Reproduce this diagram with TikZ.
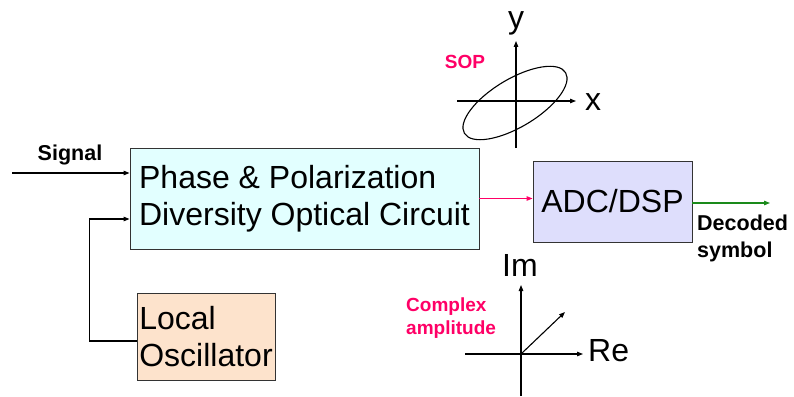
\documentclass[tikz,border=0pt]{standalone}
\usepackage{fontspec}
\setmainfont{Liberation Sans}
\usetikzlibrary{arrows.meta}
\definecolor{boxcyan}{HTML}{E2FFFF}
\definecolor{boxpeach}{HTML}{FDE3CC}
\definecolor{boxlilac}{HTML}{DEDEFC}
\definecolor{hotpink}{HTML}{FF0066}
\definecolor{outgreen}{HTML}{1A8A1A}
\begin{document}
\begin{tikzpicture}[x=1pt,y=-1pt,
    box/.style={draw=black!80, line width=0.9pt, inner sep=0pt, font=\fontsize{32}{37}\selectfont},
    wire/.style={line width=1.1pt, -{Triangle[length=6pt,width=4.5pt]}},
    axis/.style={line width=1.1pt, -{Triangle[length=6pt,width=4.5pt]}},
    big/.style={inner sep=0pt, font=\fontsize{32}{37}\selectfont},
    tag/.style={inner sep=0pt, font=\bfseries\fontsize{21.5}{27}\selectfont}]
  \useasboundingbox (0,0) rectangle (794,396);
  % blocks
  \node[box, fill=boxcyan, minimum width=349, minimum height=101, align=left] (optic) at (304.5,198.5)
    {Phase \& Polarization\\Diversity Optical Circuit};
  \node[box, fill=boxpeach, minimum width=138, minimum height=87, align=left] (lo) at (206,336.5)
    {Local\\Oscillator};
  \node[box, fill=boxlilac, minimum width=159, minimum height=81] (adc) at (612.5,201.5) {ADC/DSP};
  % inputs and output
  \coordinate (sigin) at (12,173);
  \coordinate (symout) at (770,203);
  \draw[wire] (sigin) -- (sigin -| optic.west);
  \node[tag] (signal) at (70,155) {Signal};
  \draw[wire] ([yshift=-4.5]lo.west) -- ++(-47,0) |- ([yshift=-20.5]optic.west);
  \draw[wire, hotpink] (optic.east) -- (optic.east -| adc.west);
  \draw[wire, outgreen] ([yshift=-1.5]adc.east) -- (symout);
  \node[tag, anchor=west, align=left] (decoded) at (697,238.5) {Decoded\\symbol};
  % state of polarization
  \coordinate (sop) at (516,101);
  \draw[axis] (sop) ++(-59,0) -- ++(119,0);
  \draw[axis] (sop) ++(0,47) -- ++(0,-107);
  \draw[line width=1.1pt, rotate around={31:(515,103)}] (515,103) ellipse [x radius=59, y radius=24];
  \node[big, anchor=base] (ylab) at (516,29) {y};
  \node[big, anchor=base west] (xlab) at (585,110) {x};
  \node[tag, hotpink, font=\bfseries\fontsize{19}{23}\selectfont] (soplab) at (465,62) {SOP};
  % complex amplitude
  \coordinate (orig) at (521,354);
  \draw[axis] (orig) ++(-56,0) -- ++(118,0);
  \draw[line width=1.1pt, -{Triangle[length=6pt,width=4.5pt]}] (orig) ++(0,42) -- ++(0,-111);
  \draw[axis] (orig) -- (565,312);
  \node[big, anchor=base west] (imlab) at (502,276) {Im};
  \node[big, anchor=base west] (relab) at (588,361.5) {Re};
  \node[tag, hotpink, anchor=west, align=left, font=\bfseries\fontsize{19}{23}\selectfont] (cplx) at (406,318.5)
    {Complex\\amplitude};
\end{tikzpicture}
\end{document}
